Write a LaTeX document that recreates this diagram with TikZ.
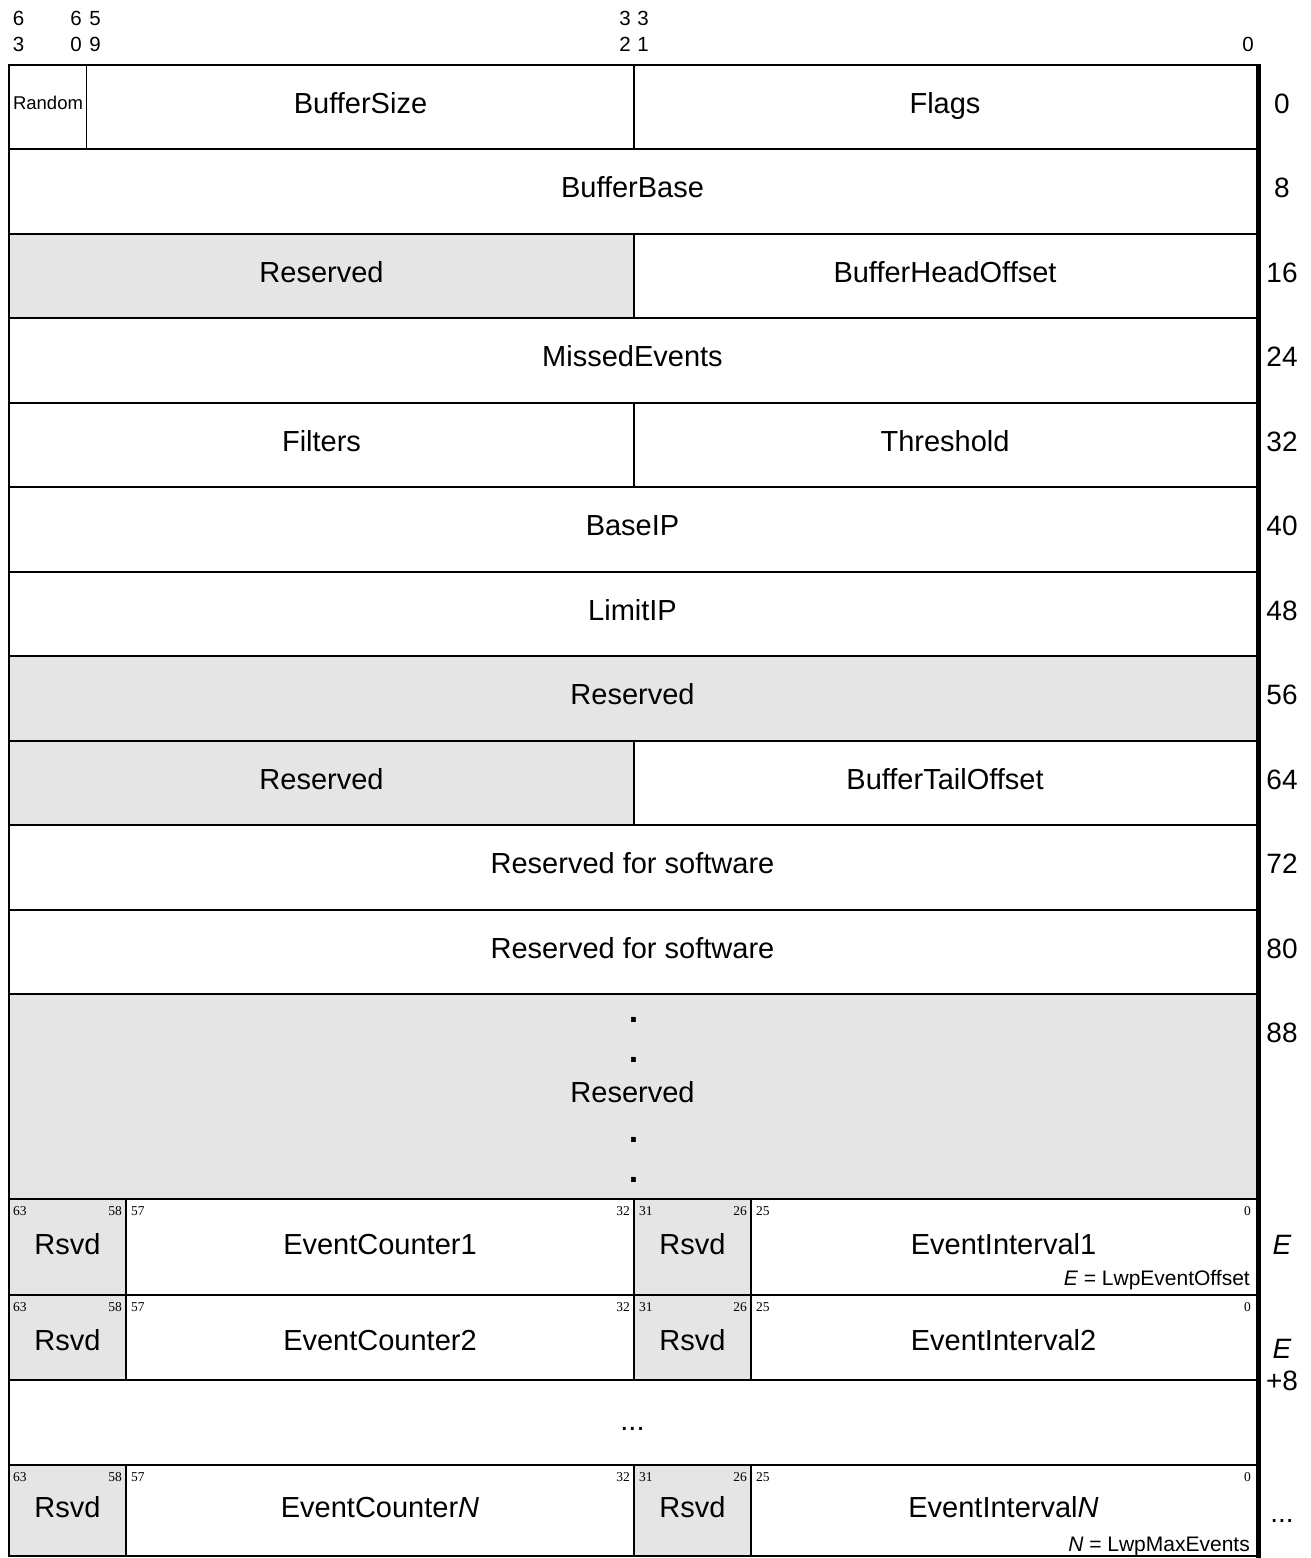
\documentclass[tikz,border=0pt]{standalone}
\usepackage{fontspec}
\setmainfont{Liberation Sans}
\newfontfamily\bitfont{Liberation Serif}
\definecolor{resgray}{RGB}{229,229,229}
\begin{document}
\begin{tikzpicture}[x=1pt,y=-1pt,
  lbl/.style={font=\fontsize{29}{34}\selectfont, anchor=base, inner sep=0pt},
  dotlbl/.style={font=\bfseries\fontsize{34}{40}\selectfont, anchor=base, inner sep=0pt},
  side/.style={font=\fontsize{28}{32}\selectfont, anchor=base, inner sep=0pt},
  hdr/.style={font=\fontsize{20.5}{24}\selectfont, anchor=base, inner sep=0pt},
  smalllbl/.style={font=\fontsize{18.5}{22}\selectfont, anchor=base, inner sep=0pt},
  note/.style={font=\fontsize{21}{25}\selectfont, anchor=base east, inner sep=0pt},
  bitl/.style={font=\bitfont\fontsize{13.5}{15}\selectfont, anchor=north west, inner sep=0pt},
  bitr/.style={font=\bitfont\fontsize{13.5}{15}\selectfont, anchor=north east, inner sep=0pt},
  rowline/.style={line width=2pt},
  divline/.style={line width=1.4pt},
  evline/.style={line width=1.8pt},
  rsv/.style={fill=resgray}
]
\useasboundingbox (0,0) rectangle (1310,1558);

% ---- gray fills
\fill[rsv] (9,234) rectangle (634,318);
\fill[rsv] (9,656) rectangle (1256,741);
\fill[rsv] (9,741) rectangle (634,825);
\fill[rsv] (9,994) rectangle (1256,1199);
\foreach \t/\b in {1199/1295,1295/1380,1465/1556}{
  \fill[rsv] (9,\t) rectangle (126,\b);
  \fill[rsv] (634,\t) rectangle (751,\b);
}

% ---- horizontal lines
\foreach \y in {65,149,234,318,403,487,572,656,741,825,910,994,1199,1295,1380,1465,1556}{
  \draw[rowline] (8,\y) -- (1256,\y);
}
% ---- left border and thick right border
\draw[rowline] (9,64) -- (9,1557);
\draw[line width=5pt] (1258.5,64) -- (1258.5,1558);

% ---- inner dividers
\draw[divline] (86.7,65) -- (86.7,149);
\foreach \t/\b in {65/149,234/318,403/487,741/825}{
  \draw[divline] (634,\t) -- (634,\b);
}
\foreach \t/\b in {1199/1295,1295/1380,1465/1556}{
  \draw[evline] (126,\t) -- (126,\b);
  \draw[evline] (634,\t) -- (634,\b);
  \draw[evline] (751,\t) -- (751,\b);
}

% ---- header bit numbers
\node[hdr] (h63a) at (18.5,25.5) {6};
\node[hdr] (h63b) at (18.5,51.5) {3};
\node[hdr] (h60a) at (76,25.5) {6};
\node[hdr] (h60b) at (76,51.5) {0};
\node[hdr] (h59a) at (95,25.5) {5};
\node[hdr] (h59b) at (95,51.5) {9};
\node[hdr] (h32a) at (625,25.5) {3};
\node[hdr] (h32b) at (625,51.5) {2};
\node[hdr] (h31a) at (643,25.5) {3};
\node[hdr] (h31b) at (643,51.5) {1};
\node[hdr] (h0) at (1248,51.5) {0};

% ---- field labels
\node[smalllbl] (random) at (48,109) {Random};
\node[lbl] (bsize) at (360.5,113) {BufferSize};
\node[lbl] (flags) at (945,113) {Flags};
\node[lbl] (bbase) at (632.5,197.5) {BufferBase};
\node[lbl] (res16) at (321.5,282) {Reserved};
\node[lbl] (bhead) at (945,282) {BufferHeadOffset};
\node[lbl] (missed) at (632.5,366.5) {MissedEvents};
\node[lbl] (filters) at (321.5,451) {Filters};
\node[lbl] (thresh) at (945,451) {Threshold};
\node[lbl] (baseip) at (632.5,535.5) {BaseIP};
\node[lbl] (limitip) at (632.5,620) {LimitIP};
\node[lbl] (res56) at (632.5,704.5) {Reserved};
\node[lbl] (res64) at (321.5,789) {Reserved};
\node[lbl] (btail) at (945,789) {BufferTailOffset};
\node[lbl] (sw72) at (632.5,873.5) {Reserved for software};
\node[lbl] (sw80) at (632.5,958) {Reserved for software};
\node[dotlbl] (dot1) at (633.5,1022) {.};
\node[dotlbl] (dot2) at (633.5,1062) {.};
\node[lbl] (res88) at (632.5,1102.5) {Reserved};
\node[dotlbl] (dot3) at (633.5,1142) {.};
\node[dotlbl] (dot4) at (633.5,1182) {.};

% ---- event rows
\foreach \t/\nm/\txt in {1199/e1/1,1295/e2/2}{
  \node[bitl] (\nm a) at (13,\t+7) {63};
  \node[bitr] (\nm b) at (122,\t+7) {58};
  \node[bitl] (\nm c) at (131,\t+7) {57};
  \node[bitr] (\nm d) at (630,\t+7) {32};
  \node[bitl] (\nm e) at (639,\t+7) {31};
  \node[bitr] (\nm f) at (747,\t+7) {26};
  \node[bitl] (\nm g) at (756,\t+7) {25};
  \node[bitr] (\nm h) at (1251,\t+7) {0};
  \node[lbl] (\nm rs1) at (67.5,\t+55) {Rsvd};
  \node[lbl] (\nm ctr) at (380,\t+55) {EventCounter\txt};
  \node[lbl] (\nm rs2) at (692.5,\t+55) {Rsvd};
  \node[lbl] (\nm int) at (1003.5,\t+55) {EventInterval\txt};
}
\node[bitl] (ena) at (13,1472) {63};
\node[bitr] (enb) at (122,1472) {58};
\node[bitl] (enc) at (131,1472) {57};
\node[bitr] (end) at (630,1472) {32};
\node[bitl] (ene) at (639,1472) {31};
\node[bitr] (enf) at (747,1472) {26};
\node[bitl] (eng) at (756,1472) {25};
\node[bitr] (enh) at (1251,1472) {0};
\node[lbl] (enrs1) at (67.5,1517) {Rsvd};
\node[lbl] (enctr) at (380,1517) {EventCounter\textit{N}};
\node[lbl] (enrs2) at (692.5,1517) {Rsvd};
\node[lbl] (enint) at (1003.5,1517) {EventInterval\textit{N}};

\node[lbl] (ellip) at (632.5,1430) {...};

\node[note] (enote) at (1250,1285) {\textit{E} = LwpEventOffset};
\node[note] (nnote) at (1250,1551) {\textit{N} = LwpMaxEvents};

% ---- right-side offsets
\node[side] (o0) at (1282,113) {0};
\node[side] (o8) at (1282,197.5) {8};
\node[side] (o16) at (1282,282) {16};
\node[side] (o24) at (1282,366.5) {24};
\node[side] (o32) at (1282,451) {32};
\node[side] (o40) at (1282,535.5) {40};
\node[side] (o48) at (1282,620) {48};
\node[side] (o56) at (1282,704.5) {56};
\node[side] (o64) at (1282,789) {64};
\node[side] (o72) at (1282,873.5) {72};
\node[side] (o80) at (1282,958) {80};
\node[side] (o88) at (1282,1042) {88};
\node[side] (oE) at (1282,1254) {\textit{E}};
\node[side] (oE8a) at (1282,1358) {\textit{E}};
\node[side] (oE8b) at (1282,1390) {+8};
\node[side] (oN) at (1282,1522) {...};
\end{tikzpicture}
\end{document}
